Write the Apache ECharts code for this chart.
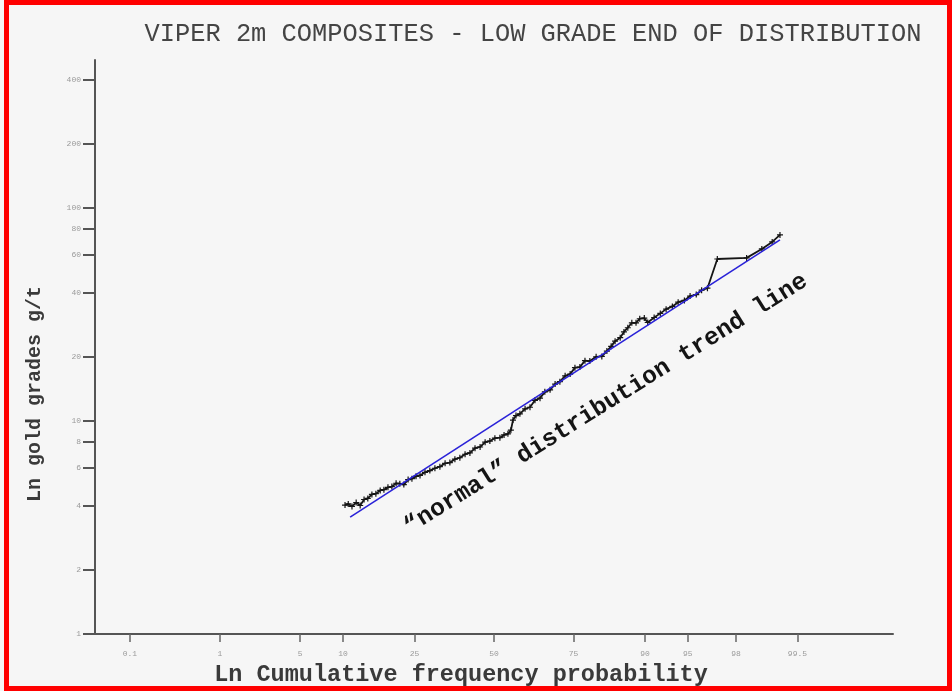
<!DOCTYPE html>
<html>
<head>
<meta charset="utf-8">
<script src="https://cdn.jsdelivr.net/npm/echarts@6/dist/echarts.min.js"></script>
<style>
  html, body { margin: 0; padding: 0; background: #f6f6f6; }
  #chart { width: 952px; height: 691px; }
</style>
</head>
<body>
<div id="chart"></div>
<script>
// Cumulative frequency (%) of the 2 m composites, low grade end
const cumFreq = [10.3, 10.8, 11.4, 12.1, 12.8, 13.5, 14.2, 15.0, 15.8, 16.7,
  17.5, 18.4, 19.3, 20.3, 21.2, 22.2, 23.3, 24.3, 25.4, 26.5,
  27.9, 29.3, 30.8, 32.3, 33.9, 35.4, 37.0, 38.6, 40.3, 41.9,
  43.6, 45.3, 47.0, 48.6, 50.3, 52.0, 53.4, 54.7, 55.7, 56.4,
  57.4, 58.7, 60.4, 62.0, 63.6, 65.2, 66.7, 68.3, 69.8, 71.2,
  72.7, 74.1, 75.4, 76.7, 78.0, 79.2, 80.7, 82.0, 83.1, 84.0,
  84.8, 85.8, 86.5, 87.2, 87.9, 88.6, 89.2, 89.9, 90.4, 91.3,
  92.1, 92.8, 93.5, 94.1, 94.7, 95.2, 95.7, 96.1, 96.5, 97.1,
  98.4, 98.85, 99.09, 99.24];
// Gold grade (g/t) at each cumulative frequency
const goldGrade = [4.03, 4.08, 3.97, 4.14, 4.01, 4.28, 4.33, 4.52, 4.56, 4.72,
  4.76, 4.88, 4.92, 5.10, 5.08, 5.03, 5.31, 5.36, 5.50, 5.55,
  5.74, 5.85, 6.00, 6.10, 6.33, 6.38, 6.62, 6.72, 6.98, 7.08,
  7.45, 7.55, 7.95, 8.05, 8.30, 8.35, 8.60, 8.70, 9.05, 10.1,
  10.6, 10.8, 11.4, 11.6, 12.5, 12.8, 13.7, 14.0, 14.9, 15.3,
  16.3, 16.6, 17.8, 17.9, 19.2, 19.1, 20.0, 20.1, 21.3, 22.4,
  23.7, 24.6, 26.2, 27.4, 28.9, 28.9, 30.2, 30.4, 29.0, 30.6,
  32.0, 33.5, 34.5, 36.1, 36.8, 38.6, 39.2, 41.1, 42.0, 57.6,
  58.3, 64.2, 69.3, 74.7];

// "normal" distribution trend line end points
const trendFreq = [11.1, 99.24];
const trendGrade = [3.54, 70.8];

// Axis ticks
const probTicks = [0.1, 1, 5, 10, 25, 50, 75, 90, 95, 98, 99.5];
const probTickLabels = ['0.1', '1', '5', '10', '25', '50', '75', '90', '95', '98', '99.5'];
const gradeTicks = [1, 2, 4, 6, 8, 10, 20, 40, 60, 80, 100, 200, 400];

// Probability paper: cumulative % -> standard normal quantile
function probit(pct) {
  const p = pct / 100;
  const a = [-3.969683028665376e+01, 2.209460984245205e+02, -2.759285104469687e+02,
    1.383577518672690e+02, -3.066479806614716e+01, 2.506628277459239e+00];
  const b = [-5.447609879822406e+01, 1.615858368580409e+02, -1.556989798598866e+02,
    6.680131188771972e+01, -1.328068155288572e+01];
  const c = [-7.784894002430293e-03, -3.223964580411365e-01, -2.400758277161838e+00,
    -2.549732539343734e+00, 4.374664141464968e+00, 2.938163982698783e+00];
  const d = [7.784695709041462e-03, 3.224671290700398e-01, 2.445134137142996e+00,
    3.754408661907416e+00];
  const pl = 0.02425, ph = 1 - pl;
  let q, r;
  if (p < pl) {
    q = Math.sqrt(-2 * Math.log(p));
    return (((((c[0]*q+c[1])*q+c[2])*q+c[3])*q+c[4])*q+c[5]) / ((((d[0]*q+d[1])*q+d[2])*q+d[3])*q+1);
  }
  if (p <= ph) {
    q = p - 0.5; r = q * q;
    return (((((a[0]*r+a[1])*r+a[2])*r+a[3])*r+a[4])*r+a[5])*q / (((((b[0]*r+b[1])*r+b[2])*r+b[3])*r+b[4])*r+1);
  }
  q = Math.sqrt(-2 * Math.log(1 - p));
  return -(((((c[0]*q+c[1])*q+c[2])*q+c[3])*q+c[4])*q+c[5]) / ((((d[0]*q+d[1])*q+d[2])*q+d[3])*q+1);
}

const probTickZ = probTicks.map(probit);
const gradeSeries = cumFreq.map((f, i) => [probit(f), goldGrade[i]]);
const trendSeries = trendFreq.map((f, i) => [probit(f), trendGrade[i]]);

const mono = '"Liberation Mono", "DejaVu Sans Mono", monospace';

const chart = echarts.init(document.getElementById('chart'));
chart.setOption({
  backgroundColor: '#f6f6f6',
  animation: false,
  title: {
    text: 'VIPER 2m COMPOSITES - LOW GRADE END OF DISTRIBUTION',
    left: 528,
    top: 17,
    textAlign: 'center',
    textStyle: { fontFamily: mono, fontSize: 25.4, fontWeight: 'normal', color: '#444' }
  },
  grid: { left: 95, right: 59, top: 60, bottom: 57, outerBoundsMode: 'none', containLabel: false },
  xAxis: {
    type: 'value',
    min: -3.387,
    max: 3.387,
    name: 'Ln Cumulative frequency probability',
    nameLocation: 'middle',
    nameGap: 29,
    nameTextStyle: {
      fontFamily: mono, fontSize: 23.5, fontWeight: 'bold', color: '#3a3a3a',
      padding: [0, 66, 0, 0], verticalAlign: 'top'
    },
    axisLine: { onZero: false, lineStyle: { color: '#555', width: 2 } },
    axisTick: { customValues: probTickZ, length: 8, lineStyle: { color: '#666', width: 1.5 } },
    axisLabel: {
      customValues: probTickZ,
      margin: 16,
      fontSize: 8,
      color: '#9a9a9a',
      fontFamily: mono,
      formatter: function (v) {
        let best = 0;
        probTickZ.forEach((z, i) => { if (Math.abs(z - v) < Math.abs(probTickZ[best] - v)) best = i; });
        return probTickLabels[best];
      }
    },
    splitLine: { show: false }
  },
  yAxis: {
    type: 'log',
    logBase: 10,
    min: 1,
    max: 495,
    name: 'Ln gold grades g/t',
    nameLocation: 'middle',
    nameRotate: 90,
    nameGap: 50,
    nameTextStyle: {
      fontFamily: mono, fontSize: 20, fontWeight: 'bold', color: '#3a3a3a',
      padding: [0, 94, 0, 0]
    },
    axisLine: { show: true, onZero: false, lineStyle: { color: '#555', width: 2 } },
    axisTick: { customValues: gradeTicks, length: 12, lineStyle: { color: '#555', width: 2 } },
    axisLabel: {
      customValues: gradeTicks,
      margin: 14,
      fontSize: 8,
      color: '#9a9a9a',
      fontFamily: mono
    },
    splitLine: { show: false },
    minorTick: { show: false }
  },
  series: [
    {
      type: 'line',
      data: gradeSeries,
      symbol: 'path://M4,0H6V4H10V6H6V10H4V6H0V4H4Z',
      symbolSize: 6,
      showSymbol: true,
      lineStyle: { color: '#151515', width: 1.8 },
      itemStyle: { color: '#151515' },
      z: 2
    },
    {
      type: 'line',
      data: trendSeries,
      symbol: 'none',
      lineStyle: { color: '#2a22d8', width: 1.6 },
      z: 3
    }
  ],
  graphic: [
    {
      type: 'text',
      x: 606,
      y: 404,
      rotation: 32 * Math.PI / 180,
      style: {
        text: '\u201cnormal\u201d distribution trend line',
        font: 'bold 24.5px ' + mono,
        fill: '#141414',
        align: 'center',
        verticalAlign: 'middle'
      },
      z: 10
    },
    {
      type: 'rect',
      shape: { x: 6.5, y: 2.5, width: 943, height: 686 },
      style: { fill: 'none', stroke: '#ff0000', lineWidth: 5 },
      silent: true,
      z: 20
    }
  ]
});
</script>
</body>
</html>
